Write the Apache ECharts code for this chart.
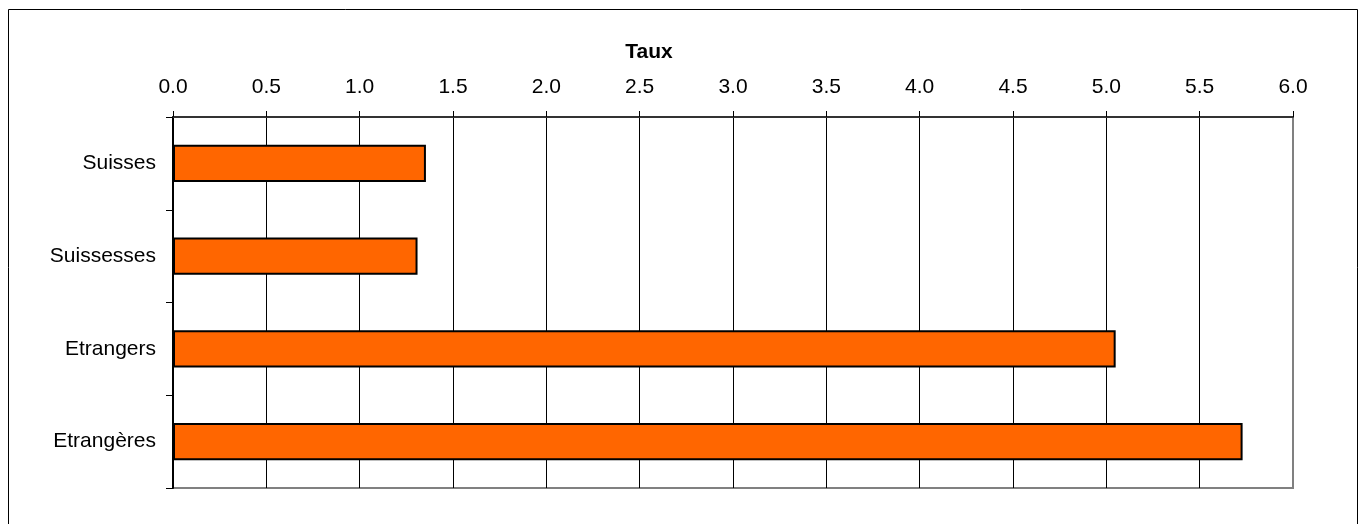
<!DOCTYPE html>
<html>
<head>
<meta charset="utf-8">
<script src="https://cdn.jsdelivr.net/npm/echarts@6/dist/echarts.min.js"></script>
<style>
html,body{margin:0;padding:0;background:#fff;}
#chart{width:1361px;height:524px;}
</style>
</head>
<body>
<div id="chart"></div>
<script>
var categories = ['Suisses', 'Suissesses', 'Etrangers', 'Etrangères'];
var values = [1.355, 1.31, 5.05, 5.73];
var axisTitle = 'Taux';

var FONT = '"Liberation Sans", Arial, sans-serif';
var gridColors = [];
for (var i = 0; i < 12; i++) gridColors.push('#000000');
gridColors.push('#808080');

var chart = echarts.init(document.getElementById('chart'));
chart.setOption({
  animation: false,
  backgroundColor: '#ffffff',
  grid: {
    left: 173, right: 68, top: 117, bottom: 36,
    show: true, borderColor: '#808080', borderWidth: 2, backgroundColor: 'transparent'
  },
  xAxis: {
    type: 'value',
    position: 'top',
    min: 0, max: 6, interval: 0.5,
    axisLine: { show: true, lineStyle: { color: '#333333', width: 2 } },
    axisTick: { show: true, inside: false, length: 6, lineStyle: { color: '#000', width: 1 } },
    axisLabel: {
      margin: 19, color: '#000', fontFamily: FONT, fontSize: 21,
      formatter: function (v) { return v.toFixed(1); }
    },
    splitLine: { show: true, lineStyle: { color: gridColors, width: 1 } }
  },
  yAxis: {
    type: 'category',
    data: categories,
    inverse: true,
    axisLine: { show: true, lineStyle: { color: '#000', width: 2 } },
    axisTick: { show: true, length: 7, lineStyle: { color: '#000', width: 1 } },
    axisLabel: { margin: 17, color: '#000', fontFamily: FONT, fontSize: 21, padding: [3, 0, 0, 0] },
    splitLine: { show: false }
  },
  graphic: [
    {
      type: 'rect', silent: true,
      shape: { x: 8.5, y: 9.5, width: 1349, height: 540 },
      style: { fill: 'none', stroke: '#000', lineWidth: 1 }
    },
    {
      type: 'text', silent: true,
      x: 649, y: 52,
      style: {
        text: axisTitle, fill: '#000', font: 'bold 21px ' + FONT,
        textAlign: 'center', textVerticalAlign: 'middle'
      }
    }
  ],
  series: [{
    type: 'bar',
    data: values,
    barWidth: '40%',
    itemStyle: { color: '#FF6600', borderColor: '#000', borderWidth: 2 }
  }]
});
</script>
</body>
</html>
